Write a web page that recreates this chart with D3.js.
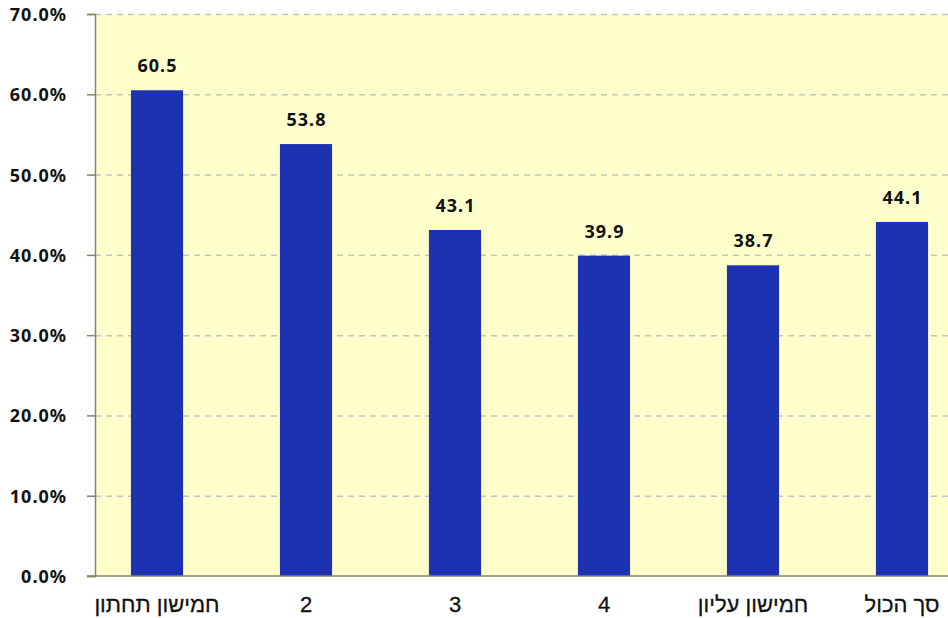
<!DOCTYPE html>
<html>
<head>
<meta charset="utf-8">
<script src="https://cdn.jsdelivr.net/npm/d3@7"></script>
<style>
  html, body { margin: 0; padding: 0; background: #ffffff; }
</style>
</head>
<body>
<div class="chart"></div>
<script>
// data
var categories = ["חמישון תחתון", "2", "3", "4", "חמישון עליון", "סך הכול"];
var values = [60.5, 53.8, 43.1, 39.9, 38.7, 44.1];
var yTicks = [0, 10, 20, 30, 40, 50, 60, 70];

var width = 948;
var height = 618;
var plotLeft = 95;
var plotRight = 948;
var plotTop = 14;
var plotBottom = 576;

var svg = d3
  .select(".chart")
  .append("svg")
  .attr("width", width)
  .attr("height", height);

// scales
var y = d3.scaleLinear().domain([0, 70]).range([plotBottom, plotTop]);
var x = d3
  .scaleBand()
  .domain(categories)
  .range([82.5, 976.5])
  .paddingInner(0.65)
  .paddingOuter(0.325);

// plot background
svg
  .append("rect")
  .attr("x", plotLeft)
  .attr("y", plotTop)
  .attr("width", plotRight - plotLeft)
  .attr("height", plotBottom - plotTop)
  .attr("fill", "#ffffcc");

// dashed grid lines
svg
  .append("g")
  .selectAll("line")
  .data(yTicks.filter((d) => d > 0))
  .enter()
  .append("line")
  .attr("x1", plotLeft)
  .attr("x2", plotRight)
  .attr("y1", (d) => y(d) + 0.5)
  .attr("y2", (d) => y(d) + 0.5)
  .attr("stroke", "#c4c4c4")
  .attr("stroke-width", 1.5)
  .attr("stroke-dasharray", "6,5");

// bars
svg
  .append("g")
  .selectAll("rect")
  .data(values)
  .enter()
  .append("rect")
  .attr("x", (d, i) => x(categories[i]))
  .attr("y", (d) => y(d))
  .attr("width", x.bandwidth())
  .attr("height", (d) => plotBottom - y(d))
  .attr("fill", "#1c32b0");

// value labels
svg
  .append("g")
  .selectAll("text")
  .data(values)
  .enter()
  .append("text")
  .attr("x", (d, i) => x(categories[i]) + x.bandwidth() / 2 + 0.5)
  .attr("y", (d) => y(d) - 18)
  .attr("text-anchor", "middle")
  .attr("font-family", "'Noto Sans', sans-serif")
  .attr("font-weight", "bold")
  .attr("font-size", "18px")
  .attr("letter-spacing", "1px")
  .attr("fill", "#111")
  .text((d) => d.toFixed(1));

// y axis
var yAxis = d3
  .axisLeft(y)
  .tickValues(yTicks)
  .tickSize(8)
  .tickPadding(20)
  .tickFormat((d) => d.toFixed(1) + "%");

var yAxisG = svg
  .append("g")
  .attr("transform", `translate(${plotLeft},0)`)
  .call(yAxis);

yAxisG.select(".domain").attr("stroke", "#8a8266").attr("stroke-width", 1.5);
yAxisG.selectAll(".tick line").attr("stroke", "#8a8266").attr("stroke-width", 1.5);
yAxisG
  .selectAll(".tick text")
  .attr("font-family", "'Noto Sans', sans-serif")
  .attr("font-weight", "bold")
  .attr("font-size", "18px")
  .attr("letter-spacing", "1px")
  .attr("fill", "#111")
  .attr("dy", "0.36em");

// x axis line
svg
  .append("line")
  .attr("x1", plotLeft - 8)
  .attr("x2", plotRight)
  .attr("y1", plotBottom)
  .attr("y2", plotBottom)
  .attr("stroke", "#8a8266")
  .attr("stroke-width", 1.5);

// category labels
svg
  .append("g")
  .selectAll("text")
  .data(categories)
  .enter()
  .append("text")
  .attr("x", (d) => x(d) + x.bandwidth() / 2)
  .attr("y", 612)
  .attr("text-anchor", "middle")
  .attr("font-family", "'Liberation Sans', 'DejaVu Sans', sans-serif")
  .attr("font-size", "22px")
  .attr("stroke", "#111")
  .attr("stroke-width", 0.3)
  .attr("fill", "#111")
  .text((d) => d);
</script>
</body>
</html>
